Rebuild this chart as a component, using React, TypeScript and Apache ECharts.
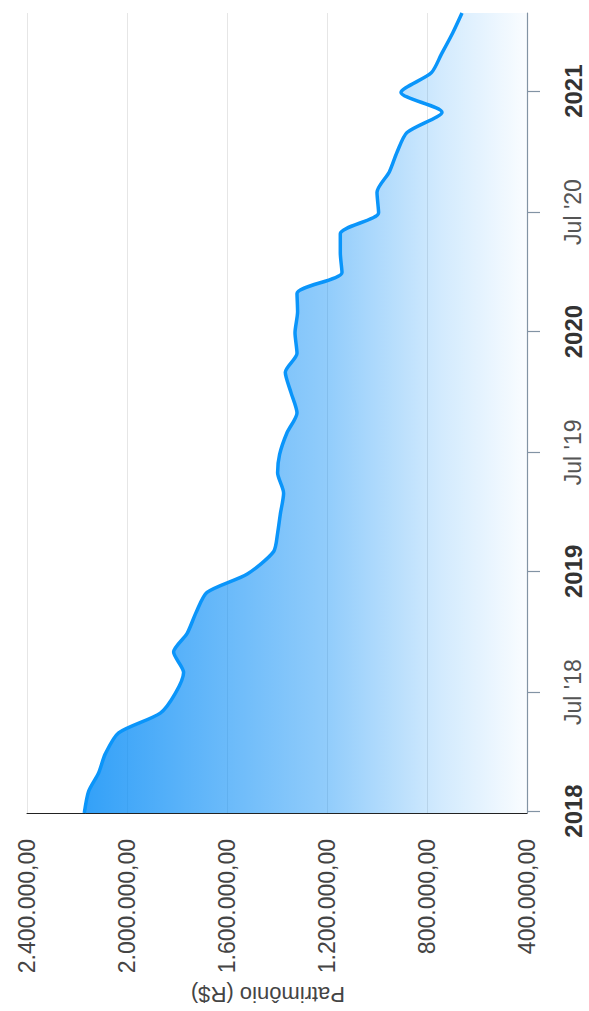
import React, { useEffect, useRef } from 'react';
import * as echarts from 'echarts';

// Monthly closing dates (last trading day) and portfolio values (R$)
const dates: string[] = [
  '2017-12-29', '2018-01-31', '2018-02-28', '2018-03-29', '2018-04-30', '2018-05-30',
  '2018-06-29', '2018-07-31', '2018-08-31', '2018-09-28', '2018-10-31', '2018-11-30',
  '2018-12-28', '2019-01-31', '2019-02-28', '2019-03-29', '2019-04-30', '2019-05-31',
  '2019-06-28', '2019-07-31', '2019-08-30', '2019-09-30', '2019-10-31', '2019-11-29',
  '2019-12-30', '2020-01-31', '2020-02-28', '2020-03-31', '2020-04-30', '2020-05-29',
  '2020-06-30', '2020-07-31', '2020-08-31', '2020-09-30', '2020-10-30', '2020-11-30',
  '2020-12-30', '2021-01-29', '2021-02-26', '2021-03-31', '2021-04-30',
];

const patrimonio: number[] = [
  2170800, 2153600, 2113600, 2086800, 2033600, 1866800,
  1806800, 1773600, 1813600, 1760000, 1722800, 1680000,
  1518800, 1413600, 1397600, 1386800, 1373600, 1397600,
  1389600, 1360000, 1320000, 1344000, 1366800, 1320000,
  1328000, 1317600, 1320000, 1140000, 1146800, 1146800,
  993600, 1000000, 950800, 920000, 880000, 740000,
  904000, 782800, 742800, 696800, 660000,
];

const timeTicks: string[] = [
  '2018-01-01', '2018-07-01', '2019-01-01', '2019-07-01',
  '2020-01-01', '2020-07-01', '2021-01-01',
];

const monthNames: string[] = ['Jan', 'Feb', 'Mar', 'Apr', 'May', 'Jun', 'Jul', 'Aug', 'Sep', 'Oct', 'Nov', 'Dec'];

const valueMin = 400000;
const valueMax = 2400000;
const valueStep = 400000;
const axisTitle = 'Patrimônio (R$)';

function toTime(s: string): number {
  const [y, m, d] = s.split('-').map(Number);
  return Date.UTC(y, m - 1, d);
}

function formatBRL(v: number): string {
  const s = Math.round(v).toString();
  let out = '';
  for (let i = 0; i < s.length; i++) {
    if (i > 0 && (s.length - i) % 3 === 0) out += '.';
    out += s[i];
  }
  return out + ',00';
}

export default function App() {
  const ref = useRef<HTMLDivElement>(null);

  useEffect(() => {
    if (!ref.current) return;
    const chart = echarts.init(ref.current, null, { renderer: 'svg' });
    const font = '"Liberation Sans", Arial, Helvetica, sans-serif';
    const tickTimes = timeTicks.map(toTime);
    const tMin = toTime(dates[0]);
    const tMax = toTime(dates[dates.length - 1]);

    chart.setOption({
      animation: false,
      useUTC: true,
      textStyle: { fontFamily: font },
      grid: {
        left: 27,
        right: 62,
        top: 13,
        bottom: 198,
        containLabel: false,
        outerBoundsMode: 'none',
      },
      xAxis: {
        type: 'value',
        inverse: true,
        position: 'bottom',
        min: valueMin,
        max: valueMax,
        interval: valueStep,
        name: axisTitle,
        nameLocation: 'middle',
        nameGap: 170,
        nameRotate: 180,
        nameTextStyle: { fontSize: 22, color: '#444', fontFamily: font, padding: [0, 0, 0, 18] },
        axisLine: { show: true, onZero: false, lineStyle: { color: '#222', width: 1 } },
        axisTick: { show: false },
        splitLine: { show: true, lineStyle: { color: '#e6e6e6', width: 1 } },
        axisLabel: {
          rotate: 90,
          margin: 26,
          fontSize: 23,
          color: '#444',
          fontFamily: font,
          formatter: (v: number) => formatBRL(v),
        },
      },
      yAxis: [
        {
          // time axis driving the series (base axis), drawn invisibly
          type: 'time',
          position: 'right',
          min: tMin,
          max: tMax,
          splitLine: { show: false },
          axisLine: { show: false },
          axisTick: { show: false },
          axisLabel: { show: false },
        },
        {
          // same time span, showing the half-year ticks and labels
          type: 'value',
          position: 'right',
          min: tMin,
          max: tMax,
          splitLine: { show: false },
          axisLine: { show: true, onZero: false, lineStyle: { color: '#8293a4', width: 1.2 } },
          axisTick: {
            show: true,
            length: 13,
            lineStyle: { color: '#8293a4', width: 1.2 },
            customValues: tickTimes,
          },
          axisLabel: {
            customValues: tickTimes,
            rotate: 90,
            margin: 34,
            fontFamily: font,
            formatter: (v: number) => {
              const d = new Date(v);
              const m = d.getUTCMonth();
              const y = d.getUTCFullYear();
              if (m === 0) return '{y|' + y + '}';
              return '{m|' + monthNames[m] + " '" + String(y).slice(2) + '}';
            },
            rich: {
              y: { fontSize: 24, fontWeight: 'bold', color: '#333', fontFamily: font },
              m: { fontSize: 23, color: '#555', fontFamily: font },
            },
          },
        },
      ],
      series: [
        {
          type: 'line',
          yAxisIndex: 0,
          data: dates.map((d, i) => [patrimonio[i], toTime(d)]),
          smooth: 0.25,
          showSymbol: false,
          lineStyle: { color: '#0a95fa', width: 3.5 },
          itemStyle: { color: '#0a95fa' },
          areaStyle: {
            opacity: 1,
            color: new echarts.graphic.LinearGradient(0, 0, 1, 0, [
              { offset: 0, color: 'rgba(0,137,246,0.8)' },
              { offset: 0.55, color: 'rgba(0,137,246,0.43)' },
              { offset: 0.8, color: 'rgba(0,137,246,0.18)' },
              { offset: 1, color: 'rgba(0,137,246,0.02)' },
            ]),
          },
        },
      ],
    });

    return () => chart.dispose();
  }, []);

  return (
    <div
      ref={ref}
      style={{ position: 'absolute', left: 0, top: 0, width: 589, height: 1011 }}
    />
  );
}
